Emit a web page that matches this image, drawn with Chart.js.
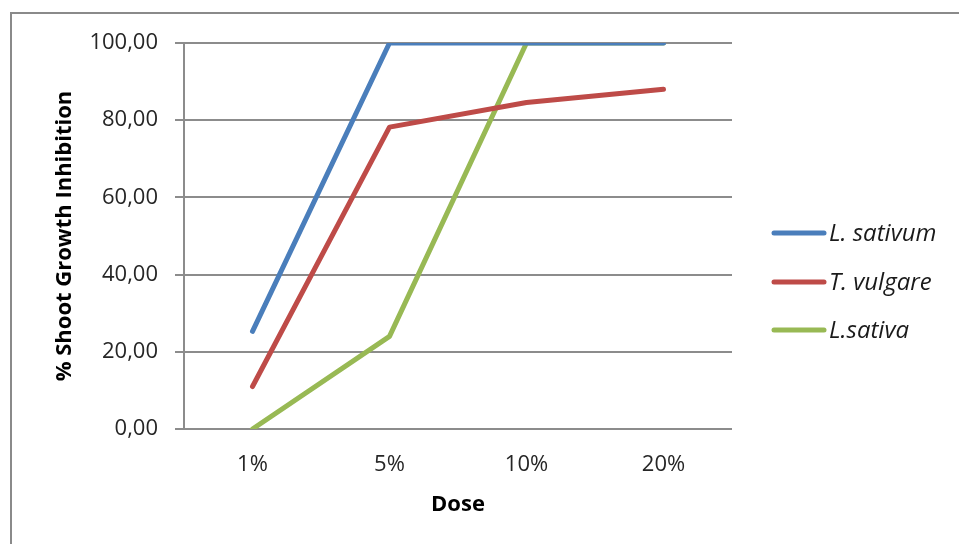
<!DOCTYPE html>
<html>
<head>
<meta charset="utf-8">
<script src="https://cdn.jsdelivr.net/npm/chart.js@4/dist/chart.umd.min.js"></script>
<style>
  html, body { margin: 0; padding: 0; background: #fff; overflow: hidden; }
  #frame { position: absolute; left: 10px; top: 12px; width: 1000px; height: 600px; border: 2px solid #8a8a8a; box-sizing: border-box; }
  #c { position: absolute; left: 0; top: 0; }
</style>
</head>
<body>
<div id="frame"></div>
<canvas id="c" width="959" height="544"></canvas>
<script>
const categories = ['1%', '5%', '10%', '20%'];
const seriesNames = ['L. sativum', 'T. vulgare', 'L.sativa'];
const lSativum = [25.3, 100, 100, 100];
const tVulgare = [11.0, 78.2, 84.6, 88.0];
const lSativa = [0, 24.0, 100, 100];
const yTicks = [0, 20, 40, 60, 80, 100];
const colors = ['#4a7ebb', '#be4b48', '#98b954'];

const FONT = "'Open Sans', 'Liberation Sans', sans-serif";

const legendPlugin = {
  id: 'customLegend',
  afterDraw(chart) {
    const ctx = chart.ctx;
    const rows = [233, 282, 330];
    chart.data.datasets.forEach((ds, i) => {
      const y = rows[i];
      ctx.save();
      ctx.strokeStyle = ds.borderColor;
      ctx.lineWidth = 5;
      ctx.lineCap = 'round';
      ctx.beginPath();
      ctx.moveTo(774, y);
      ctx.lineTo(824, y);
      ctx.stroke();
      ctx.fillStyle = '#1a1a1a';
      ctx.font = 'italic 24px ' + FONT;
      ctx.textBaseline = 'middle';
      ctx.textAlign = 'left';
      ctx.fillText(ds.label, 829, y + 1);
      ctx.restore();
    });
  }
};

new Chart(document.getElementById('c'), {
  type: 'line',
  data: {
    labels: categories,
    datasets: [
      { label: seriesNames[0], data: lSativum, borderColor: colors[0] },
      { label: seriesNames[1], data: tVulgare, borderColor: colors[1] },
      { label: seriesNames[2], data: lSativa, borderColor: colors[2] }
    ].map(d => Object.assign(d, {
      borderWidth: 5, pointRadius: 0, pointHoverRadius: 0, tension: 0,
      fill: false, borderCapStyle: 'round', borderJoinStyle: 'round', backgroundColor: d.borderColor
    }))
  },
  options: {
    responsive: false,
    animation: false,
    events: [],
    layout: { padding: { top: 43, right: 227, bottom: 0, left: 0 } },
    plugins: { legend: { display: false }, tooltip: { enabled: false } },
    scales: {
      x: {
        offset: true,
        grid: { display: false, drawTicks: false },
        border: { display: false },
        ticks: { color: '#262626', font: { family: FONT, size: 22 }, padding: 23, maxRotation: 0 },
        title: { display: true, text: 'Dose', color: '#000', font: { family: FONT, size: 22, weight: 'bold' }, padding: { top: 0, bottom: 26 } },
        afterFit(s) { s.height = 115; }
      },
      y: {
        min: 0, max: 100,
        afterBuildTicks(s) { s.ticks = yTicks.map(v => ({ value: v })); },
        grid: { color: '#8c8c8c', lineWidth: 2, tickLength: 9, drawTicks: true },
        border: { display: true, color: '#8c8c8c', width: 2 },
        ticks: {
          color: '#262626', font: { family: FONT, size: 22 }, padding: 17,
          callback: v => v.toFixed(2).replace('.', ',')
        },
        title: { display: true, text: '% Shoot Growth Inhibition', color: '#000', font: { family: FONT, size: 22, weight: 'bold' }, padding: { top: 52, bottom: 0 } },
        afterFit(s) { s.width = 184; }
      }
    }
  },
  plugins: [legendPlugin]
});
</script>
</body>
</html>
